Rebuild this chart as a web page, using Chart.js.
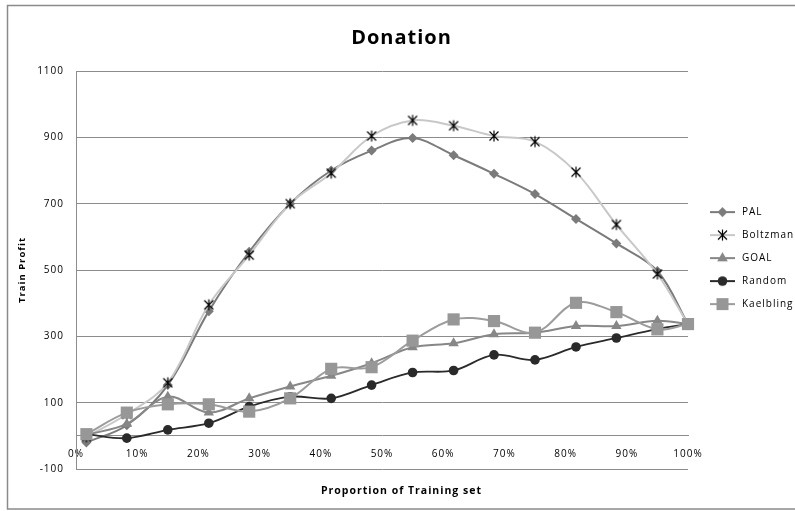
<!DOCTYPE html>
<html>
<head>
<meta charset="utf-8">
<title>Donation</title>
<script src="https://cdn.jsdelivr.net/npm/chart.js@4/dist/chart.umd.min.js"></script>
<style>
  html, body { margin: 0; padding: 0; background: #ffffff; }
  #wrap { width: 795px; height: 511px; position: relative; }
</style>
</head>
<body>
<div id="wrap"><canvas id="chart"></canvas></div>
<script>
// Proportion of the training set (%) at which each model was evaluated
const xPositions = [1.7, 8.3, 15, 21.7, 28.3, 35, 41.7, 48.3, 55, 61.7, 68.3, 75, 81.7, 88.3, 95, 100];

// Train profit per model
const palValues       = [-20, 32, 153, 376, 555, 700, 800, 860, 898, 846, 790, 729, 654, 580, 497, 337];
const boltzmanValues  = [-3, 65, 160, 395, 545, 700, 792, 904, 951, 935, 904, 887, 795, 637, 488, 337];
const goalValues      = [3, 36, 118, 70, 113, 149, 181, 219, 267, 279, 306, 311, 331, 331, 347, 337];
const randomValues    = [5, -7, 18, 38, 88, 118, 113, 153, 191, 197, 244, 229, 268, 295, 322, 337];
const kaelblingValues = [5, 70, 95, 95, 73, 113, 202, 207, 287, 351, 346, 311, 401, 373, 321, 337];

const seriesNames = ['PAL', 'Boltzman', 'GOAL', 'Random', 'Kaelbling'];
const xTickMin = 0, xTickMax = 100, xTickStep = 10;
const yTickMin = -100, yTickMax = 1100, yTickStep = 200;

const FONT = "'Open Sans', 'DejaVu Sans', sans-serif";
const GRID = '#8c8c8c';

const styles = [
  { line: '#7b7b7b', marker: '#7b7b7b', shape: 'diamond' },
  { line: '#c8c8c8', marker: '#000000', shape: 'star' },
  { line: '#878787', marker: '#878787', shape: 'triangle' },
  { line: '#2a2a2a', marker: '#2a2a2a', shape: 'circle' },
  { line: '#9c9c9c', marker: '#979797', shape: 'square' }
];

function drawMarker(ctx, shape, cx, cy, color) {
  ctx.save();
  ctx.fillStyle = color;
  ctx.strokeStyle = color;
  ctx.beginPath();
  if (shape === 'diamond') {
    ctx.moveTo(cx, cy - 5); ctx.lineTo(cx + 5, cy); ctx.lineTo(cx, cy + 5); ctx.lineTo(cx - 5, cy);
    ctx.closePath(); ctx.fill();
  } else if (shape === 'star') {
    ctx.lineWidth = 1.2;
    ctx.moveTo(cx - 4.5, cy - 4.5); ctx.lineTo(cx + 4.5, cy + 4.5);
    ctx.moveTo(cx + 4.5, cy - 4.5); ctx.lineTo(cx - 4.5, cy + 4.5);
    ctx.moveTo(cx, cy - 5.5); ctx.lineTo(cx, cy + 5.5);
    ctx.stroke();
  } else if (shape === 'triangle') {
    ctx.moveTo(cx, cy - 6); ctx.lineTo(cx + 5.3, cy + 3.2); ctx.lineTo(cx - 5.3, cy + 3.2);
    ctx.closePath(); ctx.fill();
  } else if (shape === 'circle') {
    ctx.arc(cx, cy, 4.8, 0, Math.PI * 2); ctx.fill();
  } else {
    ctx.rect(cx - 6, cy - 6, 12, 12); ctx.fill();
  }
  ctx.restore();
}

// Asterisk marker used for the Boltzman points
const starCanvas = document.createElement('canvas');
starCanvas.width = 14; starCanvas.height = 14;
drawMarker(starCanvas.getContext('2d'), 'star', 7, 7, '#000000');

// Legend keys: a short line segment with the series marker on it
const legendIcons = styles.map(s => {
  const c = document.createElement('canvas');
  c.width = 36; c.height = 16;
  const g = c.getContext('2d');
  g.strokeStyle = s.line;
  g.lineWidth = 2;
  g.beginPath(); g.moveTo(9, 8); g.lineTo(34, 8); g.stroke();
  drawMarker(g, s.shape, 21.5, 8, s.marker);
  return c;
});

const seriesValues = [palValues, boltzmanValues, goalValues, randomValues, kaelblingValues];
const pointStyles = ['rectRot', starCanvas, 'triangle', 'circle', 'rect'];
const pointRadii = [5, 7, 6, 4.8, 8.6];

const datasets = seriesNames.map((name, i) => ({
  label: name,
  data: xPositions.map((x, k) => ({ x: x, y: seriesValues[i][k] })),
  borderColor: styles[i].line,
  backgroundColor: styles[i].marker,
  borderWidth: i === 3 ? 1.8 : 2,
  tension: 0.35,
  pointStyle: pointStyles[i],
  pointRadius: pointRadii[i],
  pointHoverRadius: pointRadii[i],
  pointBorderWidth: 0,
  pointBackgroundColor: styles[i].marker,
  order: seriesNames.length - 1 - i,
  clip: false
}));

const frameAndSpacing = {
  id: 'frameAndSpacing',
  beforeUpdate(chart) { chart.ctx.letterSpacing = '1px'; },
  beforeDraw(chart) {
    const ctx = chart.ctx;
    ctx.letterSpacing = '1px';
    ctx.save();
    ctx.fillStyle = '#ffffff';
    ctx.fillRect(0, 0, chart.width, chart.height);
    ctx.strokeStyle = '#8a8a8a';
    ctx.lineWidth = 1.5;
    ctx.strokeRect(7.5, 5.5, chart.width + 10, 503.5);
    ctx.restore();
  }
};

new Chart(document.getElementById('chart'), {
  type: 'line',
  data: { datasets: datasets },
  plugins: [frameAndSpacing],
  options: {
    responsive: true,
    maintainAspectRatio: false,
    animation: false,
    events: [],
    layout: { padding: { left: 8, top: 0, right: 0, bottom: 0 } },
    scales: {
      x: {
        type: 'linear',
        position: { y: 0 },
        min: xTickMin,
        max: xTickMax,
        grid: { display: false, drawTicks: false },
        border: { display: true, color: GRID, width: 1 },
        ticks: {
          stepSize: xTickStep,
          autoSkip: false,
          maxRotation: 0,
          padding: 12,
          color: '#000000',
          font: { family: FONT, size: 10 },
          callback: v => v + '%'
        }
      },
      y: {
        type: 'linear',
        min: yTickMin,
        max: yTickMax,
        afterFit(scale) { scale.width = 68; },
        grid: { color: GRID, lineWidth: 1, drawTicks: false },
        border: { display: true, color: GRID, width: 1 },
        ticks: {
          stepSize: yTickStep,
          padding: 12,
          color: '#000000',
          font: { family: FONT, size: 10 },
          callback: v => String(v)
        },
        title: {
          display: true,
          text: 'Train Profit',
          color: '#000000',
          font: { family: FONT, size: 9.5, weight: 'bold' },
          padding: { top: 9, bottom: 0 }
        }
      }
    },
    plugins: {
      title: {
        display: true,
        text: 'Donation',
        color: '#000000',
        font: { family: FONT, size: 20, weight: 'bold' },
        padding: { top: 26, bottom: 21 }
      },
      subtitle: {
        display: true,
        position: 'bottom',
        text: 'Proportion of Training set',
        color: '#000000',
        font: { family: FONT, size: 10.5, weight: 'bold' },
        padding: { top: 15.7, bottom: 13.7 }
      },
      legend: {
        display: true,
        position: 'right',
        maxWidth: 107,
        title: { display: true, text: '', font: { size: 1 }, padding: 2 },
        labels: {
          usePointStyle: true,
          pointStyleWidth: 36,
          padding: 13,
          color: '#000000',
          font: { family: FONT, size: 10 },
          generateLabels(chart) {
            return chart.data.datasets.map((ds, i) => ({
              text: ds.label,
              pointStyle: legendIcons[i],
              datasetIndex: i,
              hidden: false,
              fillStyle: 'rgba(0,0,0,0)',
              strokeStyle: 'rgba(0,0,0,0)',
              lineWidth: 0,
              fontColor: '#000000'
            }));
          }
        }
      },
      tooltip: { enabled: false }
    }
  }
});
</script>
</body>
</html>
